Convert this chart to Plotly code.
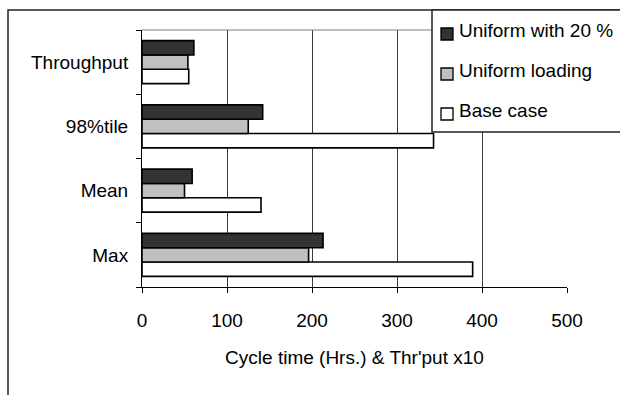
import plotly.graph_objects as go

# ---- data ----
categories = ["Max", "Mean", "98%tile", "Throughput"]
series_names = ["Base case", "Uniform loading", "Uniform with 20 %"]
base_case = [389, 140, 343, 55]
uniform_loading = [196, 50, 125, 54]
uniform_20 = [213, 59, 142, 61]
x_ticks = [0, 100, 200, 300, 400, 500]
x_title = "Cycle time (Hrs.) & Thr'put x10"

# ---- styles ----
colors = ["#ffffff", "#c0c0c0", "#333333"]
W, H = 620, 395
ML, MR, MT, MB = 142, 53, 30, 108
PW, PH = W - ML - MR, H - MT - MB
FONT = "Liberation Sans, Arial, sans-serif"
FS = 19


def px_x(p):
    return (p - ML) / PW


def px_y(p):
    return (H - MB - p) / PH


fig = go.Figure()
for name, vals, col in zip(series_names, [base_case, uniform_loading, uniform_20], colors):
    fig.add_trace(go.Bar(
        y=categories, x=vals, name=name, orientation="h",
        marker=dict(color=col, line=dict(color="#000000", width=1.6)),
        showlegend=False,
    ))

fig.update_layout(
    width=W, height=H,
    margin=dict(l=ML, r=MR, t=MT, b=MB, autoexpand=False),
    paper_bgcolor="white", plot_bgcolor="white",
    barmode="group", bargap=0.33, bargroupgap=0,
    font=dict(family=FONT, size=FS, color="#000000"),
    xaxis=dict(
        range=[0, 500], tickvals=x_ticks, ticktext=[str(v) for v in x_ticks],
        showgrid=True, gridcolor="#3a3a3a", gridwidth=1,
        showline=True, linecolor="#000000", linewidth=1,
        ticks="outside", ticklen=5, tickcolor="#000000",
        ticklabelstandoff=11, zeroline=False,
        title=dict(text=x_title, standoff=20, font=dict(size=FS)),
    ),
    yaxis=dict(
        categoryorder="array", categoryarray=categories,
        showgrid=False, showline=True, linecolor="#000000", linewidth=1,
        ticks="outside", ticklen=5, tickcolor="#000000", tickson="boundaries",
        ticklabelstandoff=9, range=[-0.5, 3.5],
    ),
)

shapes = []
# top border of plot area
shapes.append(dict(type="line", xref="paper", yref="paper", x0=0, x1=1, y0=1, y1=1,
                   line=dict(color="#808080", width=1.2), layer="above"))
# outer frame (extends past the right and bottom edges)
shapes.append(dict(type="rect", xref="paper", yref="paper",
                   x0=px_x(8), x1=px_x(W + 20), y0=px_y(H + 20), y1=px_y(10),
                   line=dict(color="#222222", width=1.5), fillcolor="rgba(0,0,0,0)", layer="above"))
# legend box
shapes.append(dict(type="rect", xref="paper", yref="paper",
                   x0=px_x(432), x1=px_x(W + 20), y0=px_y(132), y1=px_y(10),
                   line=dict(color="#222222", width=1.5), fillcolor="#ffffff", layer="above"))

annotations = []
legend_order = list(reversed(range(len(series_names))))
for i, idx in enumerate(legend_order):
    cy = 30 + 40 * i
    shapes.append(dict(type="rect", xref="paper", yref="paper",
                       x0=px_x(441), x1=px_x(453), y0=px_y(cy + 10), y1=px_y(cy - 2),
                       line=dict(color="#000000", width=1.3), fillcolor=colors[idx], layer="above"))
    annotations.append(dict(xref="paper", yref="paper", x=px_x(457), y=px_y(cy),
                            xanchor="left", yanchor="middle", showarrow=False,
                            text=series_names[idx], font=dict(size=FS, family=FONT, color="#000000")))

fig.update_layout(shapes=shapes, annotations=annotations)
fig.write_html("out.html")
